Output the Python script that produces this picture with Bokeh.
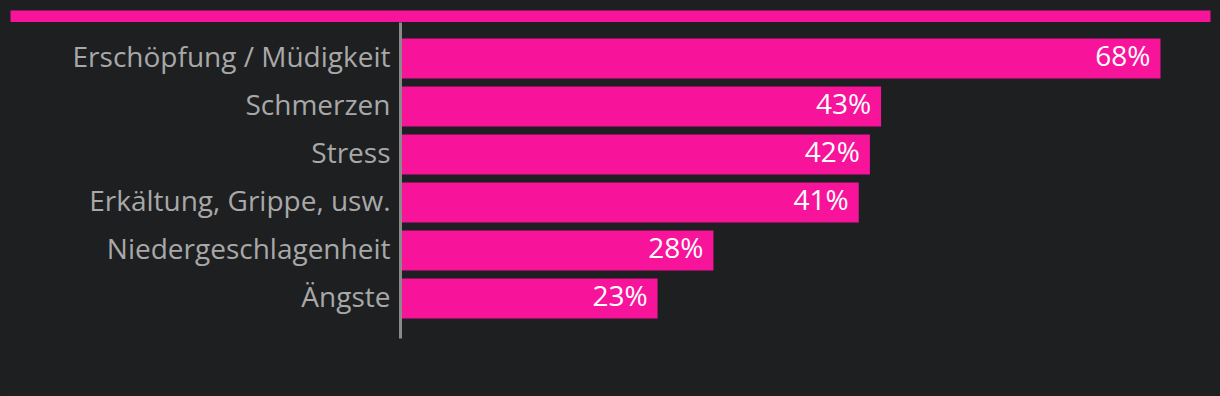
from bokeh.plotting import figure
from bokeh.layouts import column
from bokeh.models import ColumnDataSource, Range1d, FixedTicker, LabelSet
from bokeh.core.properties import value
from bokeh.embed import file_html
from bokeh.resources import INLINE

categories = ["Erschöpfung / Müdigkeit", "Schmerzen", "Stress",
              "Erkältung, Grippe, usw.", "Niedergeschlagenheit", "Ängste"]
values = [68, 43, 42, 41, 28, 23]

BG = "#1e1f21"
PINK = "#f7139a"
FONT = "Open Sans"

# top decorative strip: the frame of this tiny figure is the pink strip
top = figure(width=1220, height=22, output_backend="svg", toolbar_location=None,
             x_axis_type=None, y_axis_type=None,
             min_border_left=10, min_border_right=10, min_border_top=10, min_border_bottom=0,
             background_fill_color=PINK, border_fill_color=BG, outline_line_color=None)
top.xgrid.visible = False
top.ygrid.visible = False
top.frame_align = False
top.styles = {"background-color": BG}

pos = list(range(len(categories)))
labels = [f"{v}%" for v in values]
src = ColumnDataSource(dict(y=pos, v=values, lab=labels))

p = figure(width=1220, height=374, output_backend="svg", toolbar_location=None,
           min_border_left=400, min_border_right=0, min_border_top=0, min_border_bottom=58,
           background_fill_color=BG, border_fill_color=BG, outline_line_color=None,
           x_range=Range1d(0, 820 / (760 / 68)),
           y_range=Range1d(len(categories) - 0.5 + 1 / 3, -0.75))
p.frame_align = False
p.styles = {"background-color": BG}

p.hbar(y="y", right="v", left=0, height=40 / 48, source=src, color=PINK, line_color=None)

p.add_layout(LabelSet(x="v", y="y", text="lab", source=src, x_offset=-10, y_offset=4,
                      text_align="right", text_baseline="middle",
                      text_color="white", text_font=value(FONT), text_font_size="28px"))

p.xaxis.visible = False
p.xgrid.visible = False
p.ygrid.visible = False
yax = p.yaxis[0]
# labels sit a few pixels above the bar centres, as in the original
shift = 3 / 48
ticks = [i - shift for i in pos]
yax.ticker = FixedTicker(ticks=ticks)
yax.major_label_overrides = {t: c for t, c in zip(ticks, categories)}
yax.major_label_text_font = FONT
yax.major_label_text_font_size = "28px"
yax.major_label_text_color = "#a8a8a8"
yax.major_label_standoff = 4
yax.major_tick_line_color = None
yax.minor_tick_line_color = None
yax.axis_line_color = "#8a8a8a"
yax.axis_line_width = 3

layout = column(top, p, spacing=0)
layout.styles = {"background-color": BG}
html = file_html(layout, INLINE)
html = html.replace("<body>", f'<body style="margin:0;background:{BG}">', 1)
open("out.html", "w").write(html)
